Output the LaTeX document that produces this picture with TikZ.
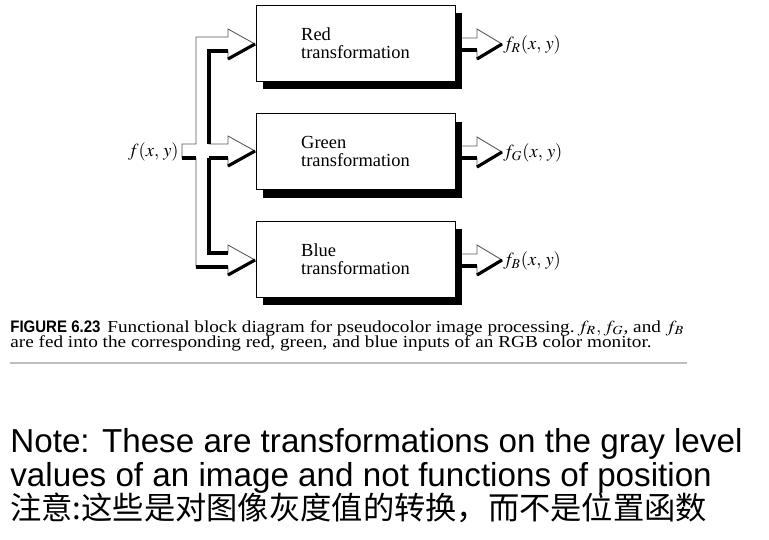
\documentclass[tikz,border=0pt]{standalone}
\usepackage{mathptmx}
\usepackage[no-math]{fontspec}
\setmainfont{Liberation Serif}
\newfontfamily\notefont{Liberation Sans}
\newfontfamily\cjkfont{Noto Sans CJK SC}
\usetikzlibrary{shadows}

\begin{document}
\begin{tikzpicture}[x=0.02cm, y=-0.02cm, line join=miter,
    tbox/.style={draw, fill=white, line width=0.5pt, minimum width=3.98cm, minimum height=1.52cm,
      align=left, font=\fontsize{10.5}{10.6}\selectfont,
      drop shadow={shadow xshift=0.14cm, shadow yshift=-0.16cm, opacity=1, fill=black}},
    pipe/.style={draw=black!65, line width=0.5pt, fill=white},
    shade/.style={line width=1.8pt, line cap=butt},
    sig/.style={font=\fontsize{10.5}{12}\selectfont, inner sep=0pt},
    txt/.style={anchor=base west, inner sep=0pt}]
  \useasboundingbox (0,0) rectangle (769,539);
  % the three transformation blocks
  \node[tbox] (red) at (355.5,43) {Red\\transformation};
  \node[tbox] (green) at (355.5,151.5) {Green\\transformation};
  \node[tbox] (blue) at (355.5,259) {Blue\\transformation};
  % input pipe: stub, bus and three branches
  \draw[pipe] (182,144) -- (196,144) -- (196,37) -- (228,37) -- (228,29) -- (255,44) -- (228,59)
    -- (228,51) -- (209,51) -- (209,144) -- (228,144) -- (228,136) -- (255,151) -- (228,166)
    -- (228,158) -- (209,158) -- (209,253) -- (228,253) -- (228,245) -- (255,260) -- (228,275)
    -- (228,267) -- (196,267) -- (196,158) -- (182,158) -- cycle;
  % shaded edges of the input pipe
  \draw[shade] (182,158) -- (196,158);
  \draw[shade] (228,51) -- (209,51) -- (209,144);
  \draw[shade] (209,158) -- (209,253) -- (228,253);
  \draw[shade] (209,158) -- (228,158);
  \draw[shade] (196,267) -- (228,267);
  \foreach \c in {44,151,260}
    \draw[shade] (228,\c+15) -- (255,\c);
  % output arrows
  \foreach \c in {44,152,260} {
    \draw[pipe] (462,\c-6) -- (477,\c-6) -- (477,\c-15) -- (502,\c) -- (477,\c+15) -- (477,\c+6) -- (462,\c+6);
    \draw[shade] (462,\c+6) -- (477,\c+6);
    \draw[shade] (477,\c+15) -- (502,\c);
  }
  % signals
  \node[sig, anchor=east] (fin) at (179,152) {$f(x,\,y)$};
  \node[sig, anchor=west] (fR) at (503,45) {$f_R(x,\,y)$};
  \node[sig, anchor=west] (fG) at (503,153) {$f_G(x,\,y)$};
  \node[sig, anchor=west] (fB) at (503,261) {$f_B(x,\,y)$};
  % caption
  \node[txt, font=\notefont\bfseries\fontsize{9.5}{10}\selectfont] (figno) at (10,332)
    {\scalebox{0.9}[1]{FIGURE 6.23}};
  \node[txt, font=\fontsize{9.6}{12}\selectfont] (cap1) at (107,332)
    {\scalebox{1.14}[1]{Functional block diagram for pseudocolor image processing.\,$f_R,f_G$, and $f_B$}};
  \node[txt, font=\fontsize{9.6}{12}\selectfont] (cap2) at (10,347)
    {\scalebox{1.14}[1]{are fed into the corresponding red, green, and blue inputs of an RGB color monitor.}};
  \draw[black!25, line width=1pt] (10,363) -- (687,363);
  % note
  \node[txt, font=\notefont\fontsize{18.9}{22}\selectfont] (note1) at (10,452)
    {Note: These are transformations on the gray level};
  \node[txt, font=\notefont\fontsize{18.9}{22}\selectfont] (note2) at (10,486)
    {values of an image and not functions of position};
  \node[txt, font=\cjkfont\fontsize{17.8}{22}\selectfont] (note3) at (10,519)
    {注意:这些是对图像灰度值的转换，而不是位置函数};
\end{tikzpicture}
\end{document}
